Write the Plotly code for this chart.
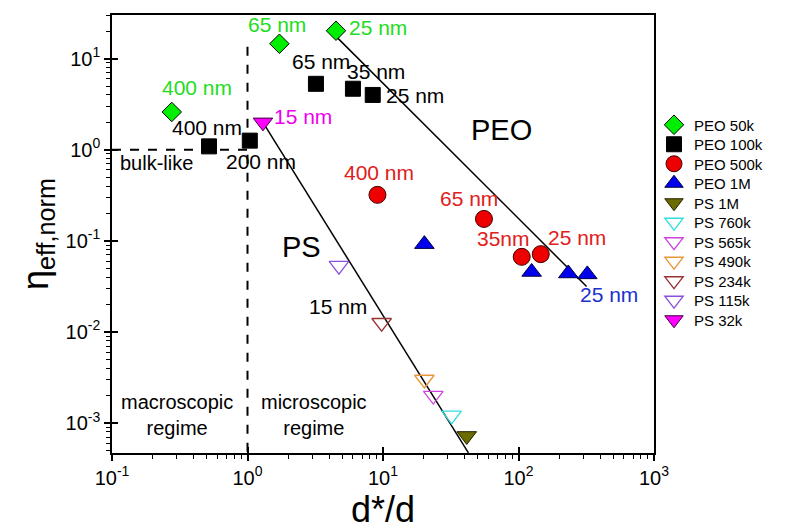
import plotly.graph_objects as go

# ---------------- data ----------------
peo50k_x = [0.276, 1.72, 4.5]
peo50k_y = [2.6, 14.6, 20.3]
peo100k_x = [0.52, 1.04, 3.2, 6.0, 8.4]
peo100k_y = [1.09, 1.26, 5.3, 4.68, 4.0]
peo500k_x = [9.1, 55.6, 105.6, 146.0]
peo500k_y = [0.32, 0.174, 0.0667, 0.0714]
peo1m_x = [20.2, 125.0, 233.0, 322.0]
peo1m_y = [0.092, 0.0455, 0.0438, 0.0428]
ps1m_x, ps1m_y = [41.5], [0.00072]
ps760k_x, ps760k_y = [32.1], [0.00121]
ps565k_x, ps565k_y = [23.5], [0.00200]
ps490k_x, ps490k_y = [20.2], [0.0030]
ps234k_x, ps234k_y = [9.77], [0.0126]
ps115k_x, ps115k_y = [4.73], [0.0535]
ps32k_x, ps32k_y = [1.30], [2.0]

# guide lines (power-law fits)
peo_fit_x = [4.5, 318.0]
peo_fit_y = [17.6, 0.0315]
ps_fit_x = [1.30, 42.7]
ps_fit_y = [2.0, 0.00047]

# axis limits (log10)
x_range = [-1, 3]
y_range = [-3.33, 1.48]

x_major = [0.1, 1, 10, 100, 1000]
x_major_text = ["10<sup>-1</sup>", "10<sup>0</sup>", "10<sup>1</sup>", "10<sup>2</sup>", "10<sup>3</sup>"]
y_major = [0.001, 0.01, 0.1, 1, 10]
y_major_text = ["10<sup>-3</sup>", "10<sup>-2</sup>", "10<sup>-1</sup>", "10<sup>0</sup>", "10<sup>1</sup>"]

# labels: (text, log10 x, log10 y, colour, size)
labels = [
    ("400 nm", -0.373, 0.681, "#22dd22", 21),
    ("65 nm", 0.218, 1.374, "#22dd22", 21),
    ("25 nm", 0.963, 1.341, "#22dd22", 21),
    ("65 nm", 0.542, 0.967, "black", 21),
    ("35 nm", 0.948, 0.857, "black", 21),
    ("25 nm", 1.236, 0.593, "black", 21),
    ("400 nm", -0.299, 0.242, "black", 21),
    ("15 nm", 0.410, 0.363, "#ee00ee", 21),
    ("200 nm", 0.100, -0.132, "black", 21),
    ("PEO", 1.871, 0.220, "black", 29),
    ("PS", 0.395, -1.066, "black", 29),
    ("400 nm", 0.970, -0.253, "#e02020", 21),
    ("65 nm", 1.635, -0.538, "#e02020", 21),
    ("35nm", 1.886, -0.978, "#e02020", 21),
    ("25 nm", 2.432, -0.967, "#e02020", 21),
    ("25 nm", 2.668, -1.593, "#2030cc", 21),
    ("15 nm", 0.668, -1.725, "black", 21),
    ("bulk-like", -0.675, -0.143, "black", 20),
    ("macroscopic<br>regime", -0.520, -2.912, "black", 20),
    ("microscopic<br>regime", 0.491, -2.912, "black", 20),
]

FONT = "Arial, Liberation Sans, sans-serif"
W, H = 786, 532
ML, MR, MT, MB = 112, 132, 15, 79

fig = go.Figure()

# fit lines
fig.add_trace(go.Scatter(x=peo_fit_x, y=peo_fit_y, mode="lines",
                         line=dict(color="black", width=1.5), showlegend=False, hoverinfo="skip"))
fig.add_trace(go.Scatter(x=ps_fit_x, y=ps_fit_y, mode="lines",
                         line=dict(color="black", width=1.5), showlegend=False, hoverinfo="skip"))
# dashed guides at 1
fig.add_trace(go.Scatter(x=[0.1, 1], y=[1, 1], mode="lines",
                         line=dict(color="black", width=2, dash="dash"), showlegend=False, hoverinfo="skip"))
fig.add_trace(go.Scatter(x=[1, 1], y=[13.5, 10 ** y_range[0]], mode="lines",
                         line=dict(color="black", width=2, dash="dash"), showlegend=False, hoverinfo="skip"))

series = [
    (peo50k_x, peo50k_y, "PEO 50k", "diamond", 15, "#00ee00", "black", 1),
    (peo100k_x, peo100k_y, "PEO 100k", "square", 15, "black", "black", 1),
    (peo500k_x, peo500k_y, "PEO 500k", "circle", 17, "#ee0000", "#400000", 1),
    (peo1m_x, peo1m_y, "PEO 1M", "triangle-up", 17, "#0000ee", "#000040", 1),
    (ps1m_x, ps1m_y, "PS 1M", "triangle-down", 17, "#6b6b00", "#202000", 1),
    (ps760k_x, ps760k_y, "PS 760k", "triangle-down-open", 17, "#33dddd", "#33dddd", 1.3),
    (ps565k_x, ps565k_y, "PS 565k", "triangle-down-open", 17, "#cc44dd", "#cc44dd", 1.3),
    (ps490k_x, ps490k_y, "PS 490k", "triangle-down-open", 17, "#e8963a", "#e8963a", 1.3),
    (ps234k_x, ps234k_y, "PS 234k", "triangle-down-open", 17, "#993333", "#993333", 1.3),
    (ps115k_x, ps115k_y, "PS 115k", "triangle-down-open", 17, "#8a50dd", "#8a50dd", 1.3),
    (ps32k_x, ps32k_y, "PS 32k", "triangle-down", 17, "#ff00ff", "#400040", 1),
]

# one small legend per entry so the rows can sit as tightly as in the reference
LEG_FIRST = 125.0   # px centre of first legend row
LEG_STEP = 19.5     # px between rows
LEG_LEFT = 654.0    # px left edge of legend
legend_layout = {}
for i, (x, y, name, sym, size, col, lcol, lw) in enumerate(series):
    key = "legend" if i == 0 else f"legend{i + 1}"
    fig.add_trace(go.Scatter(x=x, y=y, mode="markers", name=name, legend=key,
                             marker=dict(symbol=sym, size=size, color=col,
                                         line=dict(color=lcol, width=lw))))
    ypx = LEG_FIRST + i * LEG_STEP
    legend_layout[key] = dict(
        x=(LEG_LEFT - ML) / (W - ML - MR), xanchor="left",
        y=1 - (ypx - MT) / (H - MT - MB), yanchor="middle",
        bgcolor="rgba(0,0,0,0)", font=dict(size=15, family=FONT),
        itemsizing="trace", tracegroupgap=0)

# dummy trace for the overlay axes (inside major ticks)
fig.add_trace(go.Scatter(x=[None], y=[None], xaxis="x2", yaxis="y2", showlegend=False, hoverinfo="skip"))

x_minor = [m * 10 ** k for k in range(-1, 3) for m in range(2, 10)]
y_minor = [m * 10 ** k for k in range(-4, 2) for m in range(2, 10)]

axis_common = dict(showgrid=False, zeroline=False, linecolor="black", linewidth=1.5,
                   tickcolor="black", tickwidth=1.5)

for a in labels:
    fig.add_annotation(text=a[0], x=a[1], y=a[2], xref="x", yref="y", showarrow=False,
                       font=dict(family=FONT, size=a[4], color=a[3]), align="center")

fig.update_layout(
    width=W, height=H,
    paper_bgcolor="white", plot_bgcolor="white",
    margin=dict(l=ML, r=MR, t=MT, b=MB),
    font=dict(family=FONT, color="black"),
    xaxis=dict(type="log", range=x_range, showline=True, mirror=True,
               ticks="outside", ticklen=6, tickvals=x_major, ticktext=x_major_text,
               tickfont=dict(size=20, family=FONT),
               minor=dict(tickvals=x_minor, ticks="outside", ticklen=4, tickcolor="black", tickwidth=1.2),
               title=dict(text="d*/d", font=dict(size=36, family=FONT), standoff=4),
               **axis_common),
    yaxis=dict(type="log", range=y_range, showline=True, mirror=True,
               ticks="outside", ticklen=6, tickvals=y_major, ticktext=y_major_text,
               tickfont=dict(size=20, family=FONT),
               minor=dict(tickvals=y_minor, ticks="outside", ticklen=4, tickcolor="black", tickwidth=1.2),
               title=dict(text="η<sub>eff,norm</sub>", font=dict(size=36, family=FONT), standoff=6),
               **axis_common),
    xaxis2=dict(type="log", range=x_range, overlaying="x", anchor="y2", side="bottom",
                ticks="inside", ticklen=6, tickvals=x_major, showticklabels=False,
                showgrid=False, zeroline=False, showline=False, tickcolor="black", tickwidth=1.5),
    yaxis2=dict(type="log", range=y_range, overlaying="y", anchor="x2", side="left",
                ticks="inside", ticklen=6, tickvals=y_major, showticklabels=False,
                showgrid=False, zeroline=False, showline=False, tickcolor="black", tickwidth=1.5),
    **legend_layout,
)

fig.write_html("out.html", config={"displayModeBar": False},
               post_script="document.body.style.margin='0';document.body.style.padding='0';")
